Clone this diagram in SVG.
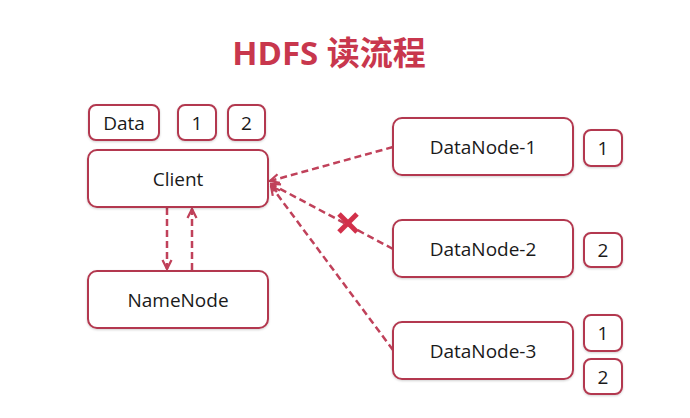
<svg xmlns="http://www.w3.org/2000/svg" width="690" height="418" viewBox="0 0 690 418">
<style>
.box{fill:#fff;stroke:#b3394f;stroke-width:2;filter:url(#sh)}
.t{font-family:"Open Sans","Noto Sans",sans-serif;font-size:19px;fill:#1a1a1a;text-anchor:middle;dominant-baseline:central}
.c{fill:none;stroke:#c0415a;stroke-width:2.5;stroke-dasharray:7 4;marker-end:url(#ah)}
</style>
<defs>
<filter id="sh" x="-10%" y="-10%" width="120%" height="130%"><feDropShadow dx="0" dy="1" stdDeviation="1.2" flood-color="#000" flood-opacity="0.18"/></filter>
<marker id="ah" viewBox="0 0 10 10" refX="9" refY="5" markerWidth="4.5" markerHeight="4.5" orient="auto" markerUnits="strokeWidth"><polyline points="1,1 9,5 1,9" fill="none" stroke="#c0415a" stroke-width="2"/></marker>
</defs>
<rect width="690" height="418" fill="#fff"/>
<text x="329" y="65" font-family="'Open Sans','Noto Sans CJK SC',sans-serif" font-size="33" font-weight="bold" fill="#c8374d" text-anchor="middle">HDFS 读流程</text>
<g id="connectors">
<line class="c" x1="167" y1="208" x2="167" y2="269"/>
<line class="c" x1="192" y1="270" x2="192" y2="209"/>
<line class="c" x1="393" y1="147" x2="270" y2="181"/>
<line class="c" x1="393" y1="249" x2="271" y2="184"/>
<line class="c" x1="393" y1="350" x2="271" y2="186"/>
<g id="cross" stroke="#d2304a" stroke-width="5" stroke-linecap="butt">
<line x1="339" y1="214" x2="357" y2="232"/>
<line x1="357" y1="214" x2="339" y2="232"/>
</g>
</g>
<g id="data"><rect class="box" x="89" y="105" width="70" height="35" rx="7"/><text class="t" x="124" y="123">Data</text></g>
<g id="blk1"><rect class="box" x="178" y="105" width="38" height="35" rx="7"/><text class="t" x="197" y="123">1</text></g>
<g id="blk2"><rect class="box" x="228" y="105" width="37" height="35" rx="7"/><text class="t" x="246.5" y="123">2</text></g>
<g id="client"><rect class="box" x="88" y="150" width="180" height="57" rx="9"/><text class="t" x="178" y="178.5">Client</text></g>
<g id="namenode"><rect class="box" x="88" y="271" width="180" height="57" rx="9"/><text class="t" x="178" y="299.5">NameNode</text></g>
<g id="dn1"><rect class="box" x="393" y="118" width="180" height="57" rx="9"/><text class="t" x="483" y="146.5">DataNode-1</text></g>
<g id="dn1b1"><rect class="box" x="584" y="130" width="38" height="36" rx="7"/><text class="t" x="603" y="148">1</text></g>
<g id="dn2"><rect class="box" x="393" y="220" width="180" height="57" rx="9"/><text class="t" x="483" y="248.5">DataNode-2</text></g>
<g id="dn2b2"><rect class="box" x="584" y="233" width="38" height="34" rx="7"/><text class="t" x="603" y="250">2</text></g>
<g id="dn3"><rect class="box" x="393" y="322" width="180" height="57" rx="9"/><text class="t" x="483" y="350.5">DataNode-3</text></g>
<g id="dn3b1"><rect class="box" x="584" y="315" width="38" height="36" rx="7"/><text class="t" x="603" y="333">1</text></g>
<g id="dn3b2"><rect class="box" x="584" y="359" width="38" height="35" rx="7"/><text class="t" x="603" y="376.5">2</text></g>
</svg>
